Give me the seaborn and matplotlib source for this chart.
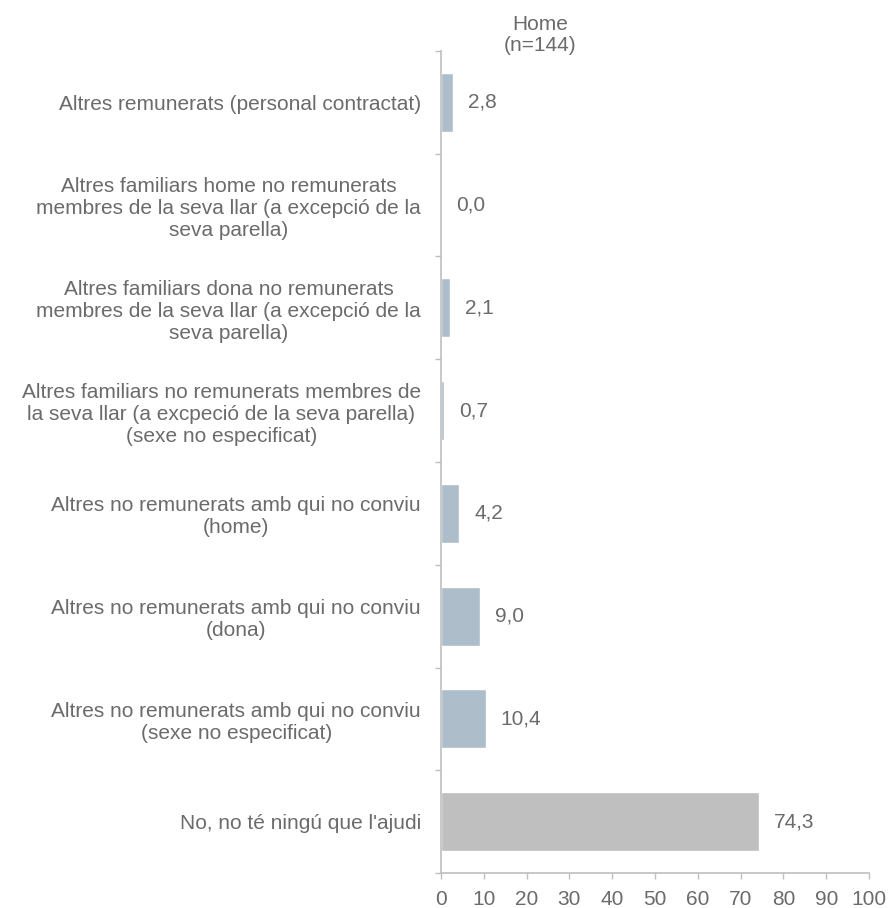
import matplotlib
matplotlib.use("Agg")
import matplotlib.pyplot as plt
import seaborn as sns
import pandas as pd
import numpy as np

categories = [
    "Altres remunerats (personal contractat)",
    "Altres familiars home no remunerats\nmembres de la seva llar (a excepció de la\nseva parella)",
    "Altres familiars dona no remunerats\nmembres de la seva llar (a excepció de la\nseva parella)",
    "Altres familiars no remunerats membres de\nla seva llar (a excpeció de la seva parella)\n(sexe no especificat)",
    "Altres no remunerats amb qui no conviu\n(home)",
    "Altres no remunerats amb qui no conviu\n(dona)",
    "Altres no remunerats amb qui no conviu\n(sexe no especificat)",
    "No, no té ningú que l'ajudi",
]
values = [2.8, 0.0, 2.1, 0.7, 4.2, 9.0, 10.4, 74.3]
groups = ["a", "a", "a", "a", "a", "a", "a", "b"]
xticks = [0, 10, 20, 30, 40, 50, 60, 70, 80, 90, 100]

df = pd.DataFrame({"cat": categories, "val": values, "grp": groups})

sns.set_theme(style="white")
plt.rcParams["font.family"] = ["Liberation Sans", "DejaVu Sans"]

text_color = "#6B6B6B"
fs = 15
fig = plt.figure(figsize=(8.89, 9.08), dpi=100)
ax = fig.add_axes([441 / 889, 1 - 873 / 908, 428 / 889, 822 / 908])

sns.barplot(data=df, x="val", y="cat", hue="grp", orient="h",
            palette={"a": "#ADBDC9", "b": "#BFBFBF"}, width=0.574,
            dodge=False, legend=False, ax=ax, saturation=1)

ax.set_xlim(0, 100)
ax.set_ylim(len(categories) - 0.5, -0.5)
ax.set_xticks(xticks)
ax.set_xticklabels([str(t) for t in xticks])
ax.set_xlabel("")
ax.set_ylabel("")

ax.set_yticks(range(len(categories)))
ax.set_yticklabels(categories, ha="right", multialignment="center")
ax.tick_params(axis="y", which="major", length=0, pad=14.4, labelsize=fs, labelcolor=text_color)
ax.set_yticks(np.arange(-0.5, len(categories), 1), minor=True)
ax.tick_params(axis="y", which="minor", left=True, length=4, width=1, color="#BFBFBF")
ax.tick_params(axis="x", which="major", bottom=True, length=4, width=1, color="#BFBFBF",
               labelsize=fs, labelcolor=text_color, pad=8)

for s in ["top", "right"]:
    ax.spines[s].set_visible(False)
for s in ["left", "bottom"]:
    ax.spines[s].set_color("#BFBFBF")
    ax.spines[s].set_linewidth(1.2)

for i, v in enumerate(values):
    ax.annotate(f"{v:.1f}".replace(".", ","), xy=(v, i), xytext=(11, 0),
                textcoords="offset points", va="center", ha="left",
                fontsize=fs, color=text_color)

fig.text(540 / 889, 1 - 35 / 908, "Home\n(n=144)", ha="center", va="center",
         fontsize=fs, color=text_color, linespacing=1.15)

fig.savefig("out.png", dpi=100, facecolor="white")
